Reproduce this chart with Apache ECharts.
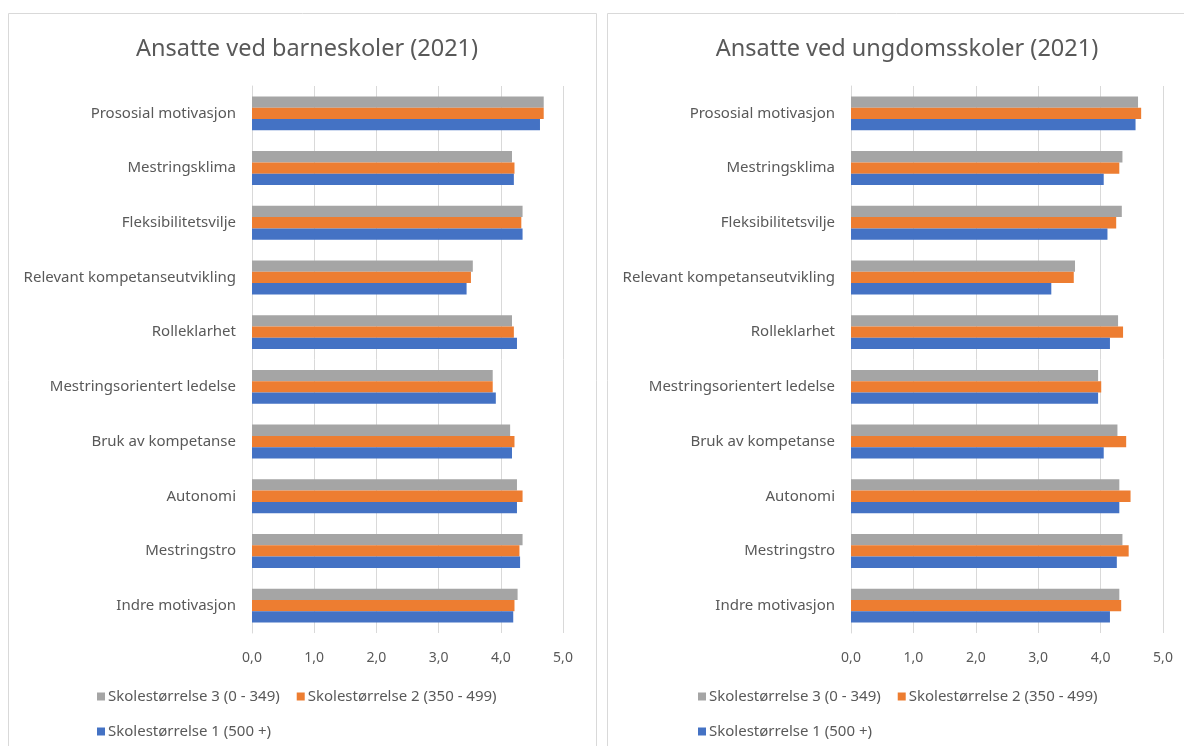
<!DOCTYPE html>
<html>
<head>
<meta charset="utf-8">
<script src="https://cdn.jsdelivr.net/npm/echarts@6/dist/echarts.min.js"></script>
<style>
  html, body { margin: 0; padding: 0; background: #fff; }
  #chart { width: 1184px; height: 746px; }
</style>
</head>
<body>
<div id="chart"></div>
<script>
// categories from bottom to top (same order as the y axis)
var categories = ['Indre motivasjon', 'Mestringstro', 'Autonomi', 'Bruk av kompetanse',
    'Mestringsorientert ledelse', 'Rolleklarhet', 'Relevant kompetanseutvikling',
    'Fleksibilitetsvilje', 'Mestringsklima', 'Prososial motivasjon'];

var seriesNames = ['Skolestørrelse 3 (0 - 349)', 'Skolestørrelse 2 (350 - 499)', 'Skolestørrelse 1 (500 +)'];
var colors = ['#a5a5a5', '#ed7d31', '#4472c4'];

// barneskoler
var barne3 = [4.27, 4.35, 4.26, 4.15, 3.87, 4.18, 3.55, 4.35, 4.18, 4.69];
var barne2 = [4.22, 4.30, 4.35, 4.22, 3.87, 4.21, 3.52, 4.33, 4.22, 4.69];
var barne1 = [4.20, 4.31, 4.26, 4.18, 3.92, 4.26, 3.45, 4.35, 4.21, 4.63];

// ungdomsskoler
var ungdom3 = [4.30, 4.35, 4.30, 4.27, 3.96, 4.28, 3.59, 4.34, 4.35, 4.60];
var ungdom2 = [4.33, 4.45, 4.48, 4.41, 4.01, 4.36, 3.57, 4.25, 4.30, 4.65];
var ungdom1 = [4.15, 4.26, 4.30, 4.05, 3.96, 4.15, 3.21, 4.11, 4.05, 4.56];

var xTicks = [0, 1, 2, 3, 4, 5];

var fontFam = 'Noto Sans';
var txt = '#595959';

var chart = echarts.init(document.getElementById('chart'));

function xAxisFor(idx) {
    return {
        type: 'value', gridIndex: idx, min: xTicks[0], max: xTicks[xTicks.length - 1], interval: 1,
        axisLine: {show: false}, axisTick: {show: false},
        splitLine: {lineStyle: {color: '#d9d9d9', width: 1}},
        axisLabel: {color: txt, fontFamily: fontFam, fontSize: 14, margin: 18,
            formatter: function (v) { return v.toFixed(1).replace('.', ','); }}
    };
}
function yAxisFor(idx) {
    return {
        type: 'category', gridIndex: idx, data: categories,
        axisLine: {show: true, lineStyle: {color: '#d9d9d9'}}, axisTick: {show: false},
        axisLabel: {color: txt, fontFamily: fontFam, fontSize: 15, margin: 16}
    };
}
function barSeries(name, data, color, idx) {
    return {
        name: name, type: 'bar', xAxisIndex: idx, yAxisIndex: idx, data: data,
        itemStyle: {color: color}, barGap: '0%', barCategoryGap: '38%'
    };
}
function legendAt(names, left, top) {
    return {
        data: names, left: left, top: top, itemWidth: 8, itemHeight: 8, itemGap: 17,
        icon: 'rect', textStyle: {color: txt, fontFamily: fontFam, fontSize: 15, padding: [0, 0, 0, -2]}
    };
}

var option = {
    animation: false,
    title: [
        {text: 'Ansatte ved barneskoler (2021)', left: 302, top: 32, textAlign: 'center',
            textStyle: {color: txt, fontFamily: fontFam, fontSize: 23.5, fontWeight: 'normal'}},
        {text: 'Ansatte ved ungdomsskoler (2021)', left: 902, top: 32, textAlign: 'center',
            textStyle: {color: txt, fontFamily: fontFam, fontSize: 23.5, fontWeight: 'normal'}}
    ],
    graphic: [
        {type: 'rect', shape: {x: 8.5, y: 13.5, width: 588, height: 760}, style: {fill: 'none', stroke: '#d9d9d9', lineWidth: 1}, z: -1},
        {type: 'rect', shape: {x: 607.5, y: 13.5, width: 600, height: 760}, style: {fill: 'none', stroke: '#d9d9d9', lineWidth: 1}, z: -1}
    ],
    legend: [
        legendAt([seriesNames[0], seriesNames[1]], 92, 684),
        legendAt([seriesNames[2]], 92, 719),
        legendAt([seriesNames[0], seriesNames[1]], 693, 684),
        legendAt([seriesNames[2]], 693, 719)
    ],
    grid: [
        {left: 252, right: 621, top: 86, bottom: 113},
        {left: 851, right: 21, top: 86, bottom: 113}
    ],
    xAxis: [xAxisFor(0), xAxisFor(1)],
    yAxis: [yAxisFor(0), yAxisFor(1)],
    series: [
        barSeries(seriesNames[0], barne3, colors[0], 0),
        barSeries(seriesNames[1], barne2, colors[1], 0),
        barSeries(seriesNames[2], barne1, colors[2], 0),
        barSeries(seriesNames[0], ungdom3, colors[0], 1),
        barSeries(seriesNames[1], ungdom2, colors[1], 1),
        barSeries(seriesNames[2], ungdom1, colors[2], 1)
    ]
};
chart.setOption(option);
</script>
</body>
</html>
